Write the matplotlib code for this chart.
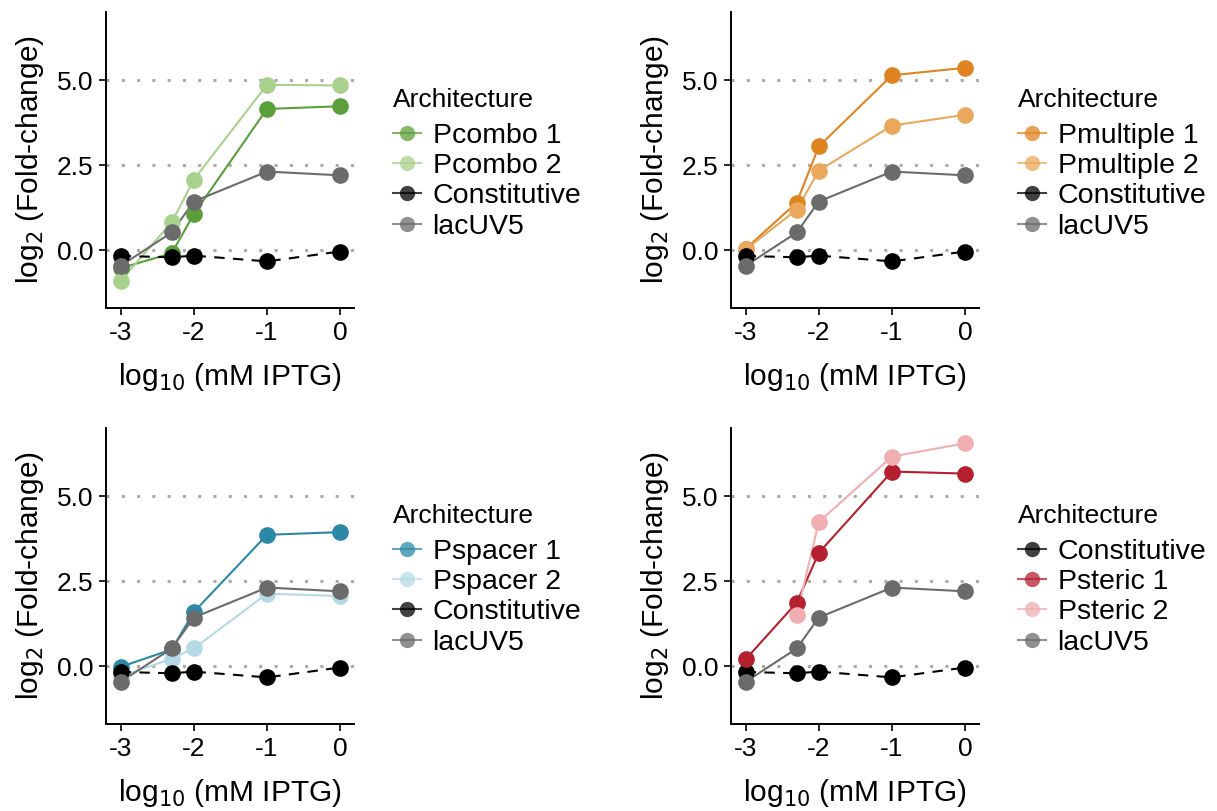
import numpy as np
import matplotlib.pyplot as plt
from matplotlib.lines import Line2D

plt.rcParams['font.family'] = ['Liberation Sans', 'DejaVu Sans']

# log10 (mM IPTG)
x = [-3, -2.301, -2, -1, 0]

# log2 fold-change
constitutive = [-0.17, -0.21, -0.16, -0.33, -0.04]
lacuv5 = [-0.46, 0.52, 1.43, 2.31, 2.20]

pcombo1 = [-0.53, -0.09, 1.06, 4.15, 4.23]
pcombo2 = [-0.90, 0.82, 2.07, 4.86, 4.84]

pmultiple1 = [0.04, 1.40, 3.05, 5.14, 5.36]
pmultiple2 = [0.02, 1.19, 2.34, 3.66, 3.98]

pspacer1 = [-0.02, 0.49, 1.59, 3.86, 3.94]
pspacer2 = [-0.30, 0.22, 0.52, 2.13, 2.06]

psteric1 = [0.20, 1.87, 3.33, 5.72, 5.66]
psteric2 = [np.nan, 1.51, 4.24, 6.16, 6.55]

BLACK = '#000000'
GRAY = '#6b6b6b'

# (label, values, colour, dashed)
panels = [
    [('Pcombo 1', pcombo1, '#5b9f3a', False),
     ('Pcombo 2', pcombo2, '#a9d18e', False),
     ('Constitutive', constitutive, BLACK, True),
     ('lacUV5', lacuv5, GRAY, False)],
    [('Pmultiple 1', pmultiple1, '#df8420', False),
     ('Pmultiple 2', pmultiple2, '#eaa85c', False),
     ('Constitutive', constitutive, BLACK, True),
     ('lacUV5', lacuv5, GRAY, False)],
    [('Pspacer 1', pspacer1, '#2b88a7', False),
     ('Pspacer 2', pspacer2, '#b5dae5', False),
     ('Constitutive', constitutive, BLACK, True),
     ('lacUV5', lacuv5, GRAY, False)],
    [('Constitutive', constitutive, BLACK, True),
     ('Psteric 1', psteric1, '#b5202f', False),
     ('Psteric 2', psteric2, '#f0aeb0', False),
     ('lacUV5', lacuv5, GRAY, False)],
]

fig = plt.figure(figsize=(12.17, 8.11), dpi=100)
W, H = 1217, 811
boxes = [(106, 12), (731, 12), (106, 428), (731, 428)]
aw, ah = 248, 296

for (px, py), series in zip(boxes, panels):
    ax = fig.add_axes([px / W, 1 - (py + ah) / H, aw / W, ah / H])
    for yv in [0, 2.5, 5.0]:
        ax.axhline(yv, color='#aaaaaa', lw=2.2, ls=(0, (1, 4)), zorder=1)
    for lab, vals, col, dashed in series:
        ax.plot(x, vals, color=col, lw=1.5, ls=(0, (5, 4)) if dashed else '-', zorder=2)
    for lab, vals, col, dashed in series:
        ax.plot(x, vals, 'o', color=col, ms=12, mec='none', zorder=3)

    ax.set_xlim(-3.2, 0.19)
    ax.set_ylim(-1.7, 7.0)
    ax.set_xticks([-3, -2, -1, 0])
    ax.set_xticklabels(['-3', '-2', '-1', '0'])
    ax.set_yticks([0, 2.5, 5.0])
    ax.set_yticklabels(['0.0', '2.5', '5.0'])
    ax.tick_params(labelsize=19, length=5, width=1.2, colors='black', pad=4)
    for s in ['top', 'right']:
        ax.spines[s].set_visible(False)
    for s in ['left', 'bottom']:
        ax.spines[s].set_linewidth(1.4)
    ax.set_xlabel(r'log$_{10}$ (mM IPTG)', fontsize=21.5, labelpad=12)
    ax.set_ylabel(r'log$_{2}$ (Fold-change)', fontsize=21.5, labelpad=8)

    handles = []
    for lab, vals, col, dashed in series:
        handles.append(Line2D([], [], color=col, lw=1.5, marker='o', ms=11,
                              mec='none', alpha=0.75, label=lab))
    leg = ax.legend(handles=handles, title='Architecture', loc='center left',
                    bbox_to_anchor=(1.11, 0.488), frameon=False, fontsize=20.5,
                    title_fontsize=19, handlelength=1.0, handletextpad=0.4,
                    labelspacing=0.15, borderaxespad=0)
    leg._legend_box.align = 'left'
    leg._legend_box.sep = 8

fig.savefig('out.png', dpi=100)
